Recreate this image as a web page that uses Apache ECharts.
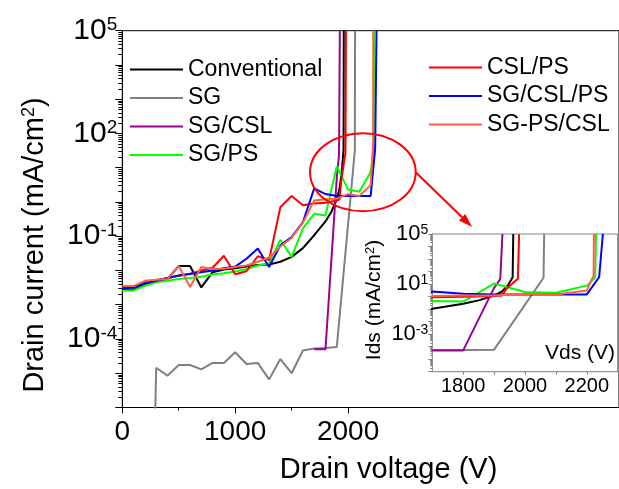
<!DOCTYPE html>
<html>
<head>
<meta charset="utf-8">
<script src="https://cdn.jsdelivr.net/npm/echarts@6/dist/echarts.min.js"></script>
<style>
  html, body { margin: 0; padding: 0; background: #fff; }
  #chart { width: 619px; height: 489px; }
</style>
</head>
<body>
<div id="chart"></div>
<script>
const FONT = '"Liberation Sans", Arial, Helvetica, sans-serif';

// Device variants, in legend order
const seriesNames = ['Conventional', 'SG', 'SG/CSL', 'SG/PS', 'CSL/PS', 'SG/CSL/PS', 'SG-PS/CSL'];
const seriesColors = ['#000000', '#808080', '#990099', '#00ff00', '#ff0000', '#0000ff', '#ff6040'];

// Blocking I-V curves: [drain voltage (V), drain current (mA/cm2)]
const conventional = [
  [0, 2.8e-3], [100, 2.8e-3], [200, 3.8e-3], [300, 4.7e-3], [400, 5.6e-3],
  [500, 1.35e-2], [600, 1.35e-2], [700, 3.2e-3], [800, 8.9e-3], [900, 1.07e-2],
  [1000, 1.17e-2], [1100, 1.3e-2], [1200, 1.45e-2], [1300, 1.5e-2], [1400, 1.8e-2],
  [1500, 2.5e-2], [1600, 4.5e-2], [1700, 0.107], [1800, 0.27], [1850, 0.5],
  [1900, 1.2], [1925, 2.5], [1945, 8], [1960, 35], [1962, 1e5]
];
const sg = [
  [280, 1e-8], [300, 1.45e-5], [400, 8.5e-6], [500, 1.74e-5], [600, 1.74e-5],
  [700, 1.3e-5], [800, 2.0e-5], [900, 2.0e-5], [1000, 4.1e-5], [1100, 1.86e-5],
  [1200, 2.0e-5], [1300, 6.6e-6], [1400, 2.6e-5], [1500, 1.0e-5], [1600, 4.6e-5],
  [1700, 5.3e-5], [1800, 5.5e-5], [1900, 5.8e-5], [2060, 32], [2062, 1e5]
];
const sgCsl = [
  [1700, 5.0e-5], [1800, 5.0e-5], [1900, 5], [1920, 25], [1927, 1e5]
];
const sgPs = [
  [0, 2.6e-3], [100, 2.6e-3], [200, 3.6e-3], [300, 4.5e-3], [400, 5.0e-3],
  [500, 5.6e-3], [600, 6.0e-3], [700, 6.6e-3], [800, 7.6e-3], [900, 8.3e-3],
  [1000, 9.3e-3], [1100, 1.1e-2], [1200, 1.4e-2], [1300, 1.6e-2], [1400, 7.9e-2],
  [1500, 2.5e-2], [1600, 0.17], [1700, 0.45], [1800, 0.4], [1900, 11],
  [2000, 2.3], [2100, 2.0], [2200, 7.5], [2227, 32], [2230, 1e5]
];
const cslPs = [
  [0, 3.3e-3], [100, 3.3e-3], [200, 4.5e-3], [300, 5.2e-3], [400, 6.0e-3],
  [500, 7.0e-3], [600, 8.0e-3], [700, 1.0e-2], [800, 1.2e-2], [900, 2.7e-2],
  [1000, 7.8e-3], [1100, 9.5e-3], [1200, 2.6e-2], [1300, 2.0e-2], [1400, 0.7],
  [1500, 1.5], [1600, 0.8], [1700, 0.9], [1800, 0.95], [1900, 1.1],
  [1925, 1.2], [1940, 4.3], [1977, 27], [1981, 1e5]
];
const sgCslPs = [
  [0, 3.0e-3], [100, 3.2e-3], [200, 4.2e-3], [300, 5.0e-3], [400, 6.0e-3],
  [500, 7.1e-3], [600, 7.9e-3], [700, 8.9e-3], [800, 1.0e-2], [900, 1.17e-2],
  [1000, 1.3e-2], [1100, 2.2e-2], [1200, 4.4e-2], [1300, 1.26e-2], [1400, 5.4e-2],
  [1500, 9.5e-2], [1600, 0.26], [1700, 2.5], [1800, 1.7], [1900, 1.5],
  [2000, 1.5], [2100, 1.5], [2200, 1.5], [2240, 36], [2252, 1e5]
];
const sgPsCsl = [
  [0, 3.5e-3], [100, 3.5e-3], [200, 5.0e-3], [300, 5.4e-3], [400, 5.6e-3],
  [500, 1.35e-2], [600, 3.3e-3], [700, 1.26e-2], [800, 1.1e-2], [900, 1.12e-2],
  [1000, 1.26e-2], [1100, 1.4e-2], [1200, 1.8e-2], [1300, 2.4e-2], [1400, 5e-2],
  [1500, 8.9e-2], [1600, 0.25], [1700, 1.1], [1800, 1.2], [1900, 1.25],
  [2000, 1.7], [2100, 1.5], [2200, 3.1], [2222, 50], [2223, 1e5]
];
const seriesData = [conventional, sg, sgCsl, sgPs, cslPs, sgCslPs, sgPsCsl];

// Axis ranges and labelled ticks
const mainXRange = [0, 4400];
const mainXLabels = [0, 1000, 2000];
const mainXMinorTicks = [500, 1500];
const insetXRange = [1700, 2300];
const insetXLabels = [1800, 2000, 2200];
const insetXTicks = [1800, 1900, 2000, 2100, 2200];
const yRange = [1e-6, 1e5];
const mainYLabels = [1e-4, 1e-1, 1e2, 1e5];
const insetYLabels = [1e-3, 1e1, 1e5];

function decadeTicks(lo, hi) {
  const t = [];
  for (let e = lo; e <= hi; e++) t.push(Number('1e' + e));
  return t;
}
function minorLogTicks(lo, hi) {
  const t = [];
  for (let e = lo; e < hi; e++) for (let m = 2; m <= 9; m++) t.push(Number(m + 'e' + e));
  return t;
}
function powerLabel(v) {
  return '{b|10}{s|' + Math.round(Math.log10(v)) + '}';
}
function plainNumber(v) {
  return String(Math.round(v));
}

const chart = echarts.init(document.getElementById('chart'), null, { renderer: 'canvas' });

const MAIN = { left: 122.3, top: 30.7, width: 498.5, height: 376.8 };
const INSET = { left: 432.3, top: 234, width: 185.4, height: 137.7 };

const black = '#000';
const grey = '#808080';

const series = [];
seriesData.forEach((d, i) => {
  const base = {
    type: 'line', name: seriesNames[i], data: d, symbol: 'none', clip: true,
    color: seriesColors[i], lineStyle: { width: 2, color: seriesColors[i] },
    animation: false, emphasis: { disabled: true }
  };
  series.push(Object.assign({}, base, { xAxisIndex: 0, yAxisIndex: 0 }));
  series.push(Object.assign({}, base, { xAxisIndex: 2, yAxisIndex: 2 }));
});

const legendCommon = {
  orient: 'vertical', padding: 0, icon: 'rect',
  itemWidth: 53, itemHeight: 2, itemGap: 5.5, selectedMode: false,
  textStyle: { fontSize: 23, color: black, fontFamily: FONT }
};

const option = {
  animation: false,
  backgroundColor: '#fff',
  grid: [
    Object.assign({ show: true, borderColor: black, borderWidth: 1, backgroundColor: 'transparent' }, MAIN),
    Object.assign({ show: true, borderColor: grey, borderWidth: 1, backgroundColor: '#fff', z: 3 }, INSET)
  ],
  legend: [
    Object.assign({ data: seriesNames.slice(0, 4), left: 130, top: 58 }, legendCommon),
    Object.assign({ data: seriesNames.slice(4), left: 429, top: 56 }, legendCommon)
  ],
  xAxis: [
    { gridIndex: 0, type: 'value', min: mainXRange[0], max: mainXRange[1], position: 'bottom',
      axisLine: { onZero: false, lineStyle: { color: black, width: 1 } },
      axisTick: { customValues: mainXLabels, length: 6, lineStyle: { color: black } },
      axisLabel: { customValues: mainXLabels, formatter: plainNumber, margin: 11, fontSize: 28,
        color: black, fontFamily: FONT },
      splitLine: { show: false } },
    { gridIndex: 0, type: 'value', min: mainXRange[0], max: mainXRange[1], position: 'bottom',
      axisLine: { show: false, onZero: false },
      axisTick: { customValues: mainXMinorTicks, length: 3, lineStyle: { color: black } },
      axisLabel: { show: false }, splitLine: { show: false } },
    { gridIndex: 1, type: 'value', min: insetXRange[0], max: insetXRange[1], position: 'bottom',
      axisLine: { onZero: false, lineStyle: { color: grey, width: 1 } },
      axisTick: { customValues: insetXTicks, length: 3, lineStyle: { color: grey } },
      axisLabel: { customValues: insetXLabels, formatter: plainNumber, margin: 5, fontSize: 20,
        color: black, fontFamily: FONT },
      splitLine: { show: false } }
  ],
  yAxis: [
    { gridIndex: 0, type: 'log', logBase: 10, min: yRange[0], max: yRange[1], position: 'left',
      axisLine: { show: true, lineStyle: { color: black, width: 1 } },
      axisTick: { customValues: decadeTicks(-6, 5), length: 7, lineStyle: { color: black } },
      axisLabel: { customValues: mainYLabels, formatter: powerLabel, margin: 5,
        rich: { b: { fontSize: 30, fontFamily: FONT, color: black },
                s: { fontSize: 19, fontFamily: FONT, color: black, verticalAlign: 'top' } } },
      splitLine: { show: false } },
    { gridIndex: 0, type: 'log', logBase: 10, min: yRange[0], max: yRange[1], position: 'left',
      axisLine: { show: false },
      axisTick: { customValues: minorLogTicks(-6, 5), length: 4, lineStyle: { color: black } },
      axisLabel: { show: false }, splitLine: { show: false } },
    { gridIndex: 1, type: 'log', logBase: 10, min: yRange[0], max: yRange[1], position: 'left',
      axisLine: { show: true, lineStyle: { color: grey, width: 1 } },
      axisTick: { customValues: decadeTicks(-6, 5), length: 4, lineStyle: { color: grey } },
      axisLabel: { customValues: insetYLabels, formatter: powerLabel, margin: 4,
        rich: { b: { fontSize: 22, fontFamily: FONT, color: black },
                s: { fontSize: 14, fontFamily: FONT, color: black, verticalAlign: 'top' } } },
      splitLine: { show: false } },
    { gridIndex: 1, type: 'log', logBase: 10, min: yRange[0], max: yRange[1], position: 'left',
      axisLine: { show: false },
      axisTick: { customValues: minorLogTicks(-6, 5), length: 2, lineStyle: { color: grey } },
      axisLabel: { show: false }, splitLine: { show: false } }
  ],
  series: series
};

chart.setOption(option);

// Annotation: ellipse around the breakdown region with an arrow pointing to the zoomed view
const ellipseCenter = chart.convertToPixel({ gridIndex: 0 }, [2131, 7.4]);
const ellipseEdgeX = chart.convertToPixel({ gridIndex: 0 }, [2131 + 468, 7.4]);
const ellipseEdgeY = chart.convertToPixel({ gridIndex: 0 }, [2131, 7.4 * Math.pow(10, 1.14)]);
const rx = ellipseEdgeX[0] - ellipseCenter[0];
const ry = ellipseCenter[1] - ellipseEdgeY[1];
const arrowStart = [ellipseCenter[0] + rx, ellipseCenter[1]];
const arrowTip = chart.convertToPixel({ gridIndex: 1 }, [1829, 3.6e5]);
const ang = Math.atan2(arrowTip[1] - arrowStart[1], arrowTip[0] - arrowStart[0]);
const headLen = 14, headHalf = 4.5;
const headBase = [arrowTip[0] - headLen * Math.cos(ang), arrowTip[1] - headLen * Math.sin(ang)];
const nx = -Math.sin(ang), ny = Math.cos(ang);

chart.setOption({
  graphic: [
    { type: 'ellipse', shape: { cx: ellipseCenter[0], cy: ellipseCenter[1], rx: rx, ry: ry },
      style: { fill: 'none', stroke: '#ff0000', lineWidth: 2 }, z: 10 },
    { type: 'line', shape: { x1: arrowStart[0], y1: arrowStart[1], x2: headBase[0], y2: headBase[1] },
      style: { stroke: '#ff0000', lineWidth: 2 }, z: 10 },
    { type: 'polygon', shape: { points: [arrowTip,
        [headBase[0] + nx * headHalf, headBase[1] + ny * headHalf],
        [headBase[0] - nx * headHalf, headBase[1] - ny * headHalf]] },
      style: { fill: '#ff0000' }, z: 10 },
    { type: 'text', x: 35, y: 245, rotation: Math.PI / 2, z: 10,
      style: { text: '{t|Drain current (mA/cm}{u|2}{t|)}', align: 'center', verticalAlign: 'middle',
        rich: { t: { fontSize: 29, fontFamily: FONT, fill: black },
                u: { fontSize: 18, fontFamily: FONT, fill: black, verticalAlign: 'top' } } } },
    { type: 'text', x: 388.5, y: 470, z: 10,
      style: { text: 'Drain voltage (V)', align: 'center', verticalAlign: 'middle',
        fontSize: 29, fontFamily: FONT, fill: black } },
    { type: 'text', x: 374, y: 300, rotation: Math.PI / 2, z: 10,
      style: { text: '{t|Ids (mA/cm}{u|2}{t|)}', align: 'center', verticalAlign: 'middle',
        rich: { t: { fontSize: 21, fontFamily: FONT, fill: black },
                u: { fontSize: 13, fontFamily: FONT, fill: black, verticalAlign: 'top' } } } },
    { type: 'text', x: 615, y: 353, z: 10,
      style: { text: 'Vds (V)', align: 'right', verticalAlign: 'middle',
        fontSize: 21, fontFamily: FONT, fill: black } }
  ]
});
</script>
</body>
</html>
